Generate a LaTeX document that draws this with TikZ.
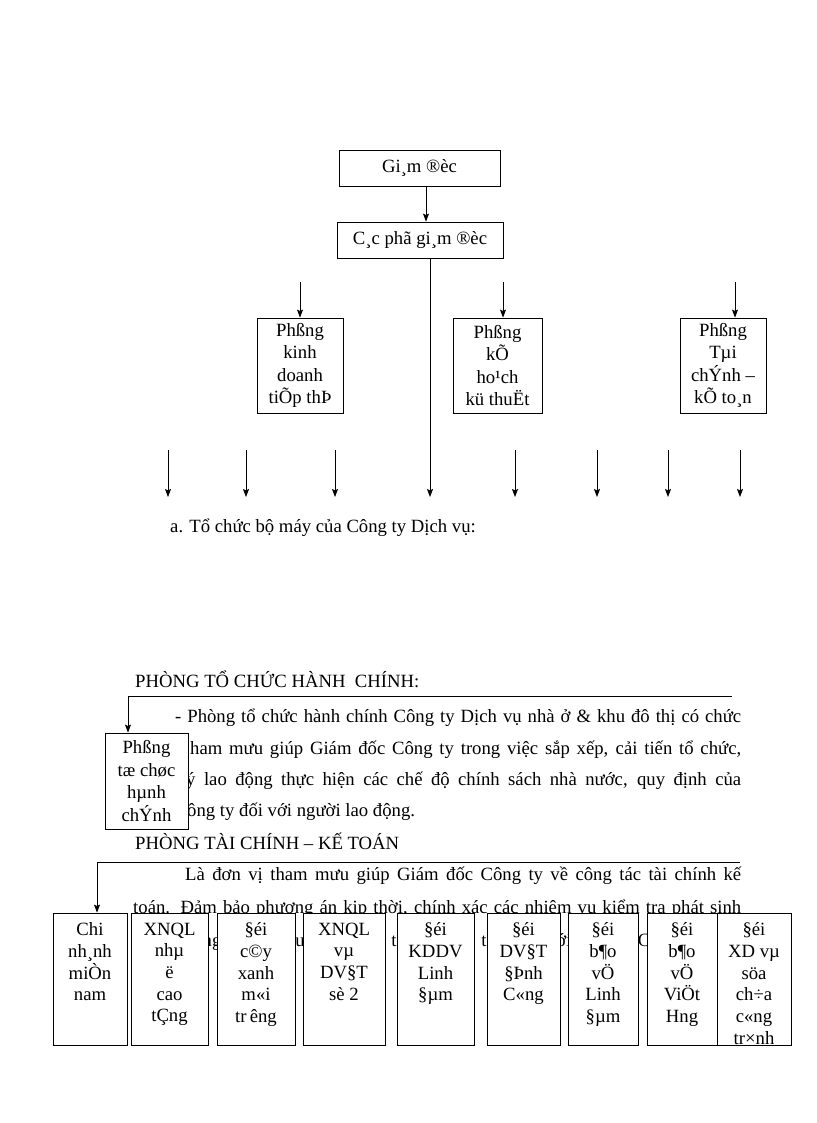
\documentclass[tikz,border=0pt]{standalone}
\usepackage{fontspec}
\setmainfont{Liberation Serif}
\usetikzlibrary{arrows.meta}

\tikzset{
  box/.style={draw, fill=white, line width=0.8pt, align=center, inner sep=0pt,
    font=\fontsize{18.7}{22.5}\selectfont},
  boxtext/.style={align=center, inner sep=0pt, font=\fontsize{18.7}{21.7}\selectfont},
  body/.style={anchor=base west, inner sep=0pt, font=\fontsize{18.7}{22}\selectfont},
  conn/.style={line width=0.8pt},
}

\begin{document}
\begin{tikzpicture}[x=1pt,y=-1pt,>={Stealth[length=8pt,width=6pt,inset=1.5pt]}]
\useasboundingbox[fill=white] (0,0) rectangle (816,1123);

% so do to chuc
\node[box, minimum width=161pt, minimum height=36pt] (gd) at (419.5,168) {Gi¸m ®èc};
\node[box, minimum width=166pt, minimum height=36pt] (pgd) at (420,240) {C¸c phã gi¸m ®èc};
\node[box, minimum width=86pt, minimum height=95pt] (pkd) at (300,365.5) {Phßng\\kinh\\doanh\\tiÕp thÞ};
\node[box, minimum width=89pt, minimum height=95pt] (pkh) at (497.5,365.5) {Phßng\\kÕ\\ho¹ch\\kü thuËt};
\node[box, minimum width=86pt, minimum height=95pt] (ptc) at (723,365.5) {Phßng\\Tµi\\chÝnh –\\kÕ to¸n};

\draw[conn,->] (gd.south -| 426,0) -- (pgd.north -| 426,0);
\coordinate (a1) at (300,282);
\coordinate (a2) at (503,282);
\coordinate (a3) at (735,282);
\draw[conn,->] (a1) -- (pkd.north -| a1);
\draw[conn,->] (a2) -- (pkh.north -| a2);
\draw[conn,->] (a3) -- (ptc.north -| a3);

\coordinate (c4) at (430,497);
\draw[conn,->] (pgd.south -| c4) -- (c4);
\foreach \x [count=\i] in {168,246,335,515,597,668,740}
  \draw[conn,->] (\x,450) coordinate (r\i) -- (\x,497) coordinate (s\i);

\node[body] (cap) at (170,532) {a. Tổ chức bộ máy của Công ty Dịch vụ:};

% phong to chuc hanh chinh
\node[body] (h1) at (135,687) {PHÒNG TỔ CHỨC HÀNH\ \ CHÍNH:};
\node[body] (b1) at (175,722) {\makebox[566pt][s]{- Phòng tổ chức hành chính Công ty Dịch vụ nhà ở \& khu đô thị có chức}};
\node[body] (b2) at (190,754) {\makebox[551pt][s]{ham mưu giúp Giám đốc Công ty trong việc sắp xếp, cải tiến tổ chức,}};
\node[body] (b3) at (186,785) {\makebox[555pt][s]{ý lao động thực hiện các chế độ chính sách nhà nước, quy định của}};
\node[body] (b4) at (187,816) {ông ty đối với người lao động.};
\node[box, minimum width=83pt, minimum height=96pt] (ptcc) at (146.5,781) {Phßng\\tæ chøc\\hµnh\\chÝnh};
\coordinate (h1s) at (128,696);
\coordinate (h1e) at (732,696);
\draw[conn,->] (h1e) -- (h1s) -- (ptcc.north -| h1s);

% phong tai chinh ke toan
\node[body] (h2) at (135,849) {PHÒNG TÀI CHÍNH – KẾ TOÁN};
\node[body] (b5) at (185,880) {\makebox[556pt][s]{Là đơn vị tham mưu giúp Giám đốc Công ty về công tác tài chính kế}};
\node[body] (b6) at (133,913) {\makebox[608pt][s]{toán. Đảm bảo phương án kịp thời, chính xác các nhiệm vụ kiểm tra phát sinh}};
\foreach \x/\t [count=\i] in {212/ng,300/u,394/t,484/t,564/ới,644/C}
  \node[body, anchor=base] (f\i) at (\x,946) {\t};

\foreach \l/\r/\txt [count=\i] in {
    53/127/{Chi\\nh¸nh\\miÒn\\nam},
    131/208/{XNQL\\nhµ\\ë\\cao\\tÇng},
    217/295/{§éi\\c©y\\xanh\\m«i\\tr\,êng},
    303/385/{XNQL\\vµ\\DV§T\\sè 2},
    397/474/{§éi\\KDDV\\Linh\\§µm},
    487/560/{§éi\\DV§T\\§Þnh\\C«ng},
    568/638/{§éi\\b¶o\\vÖ\\Linh\\§µm},
    647/717/{§éi\\b¶o\\vÖ\\ViÖt\\Hng},
    717/791/{§éi\\XD vµ\\söa\\ch÷a\\c«ng\\tr×nh}} {
  \pgfmathsetmacro\w{\r-\l}
  \pgfmathsetmacro\m{(\l+\r)/2}
  \node[box, minimum width=\w pt, minimum height=132pt] (d\i) at (\m,979) {};
  \node[boxtext, anchor=north] (d\i t) at ([yshift=-10pt]d\i.north) {\txt};
}
\coordinate (h2s) at (97,862);
\coordinate (h2e) at (740,862);
\draw[conn,->] (h2e) -- (h2s) -- (d1.north -| h2s);
\end{tikzpicture}
\end{document}
